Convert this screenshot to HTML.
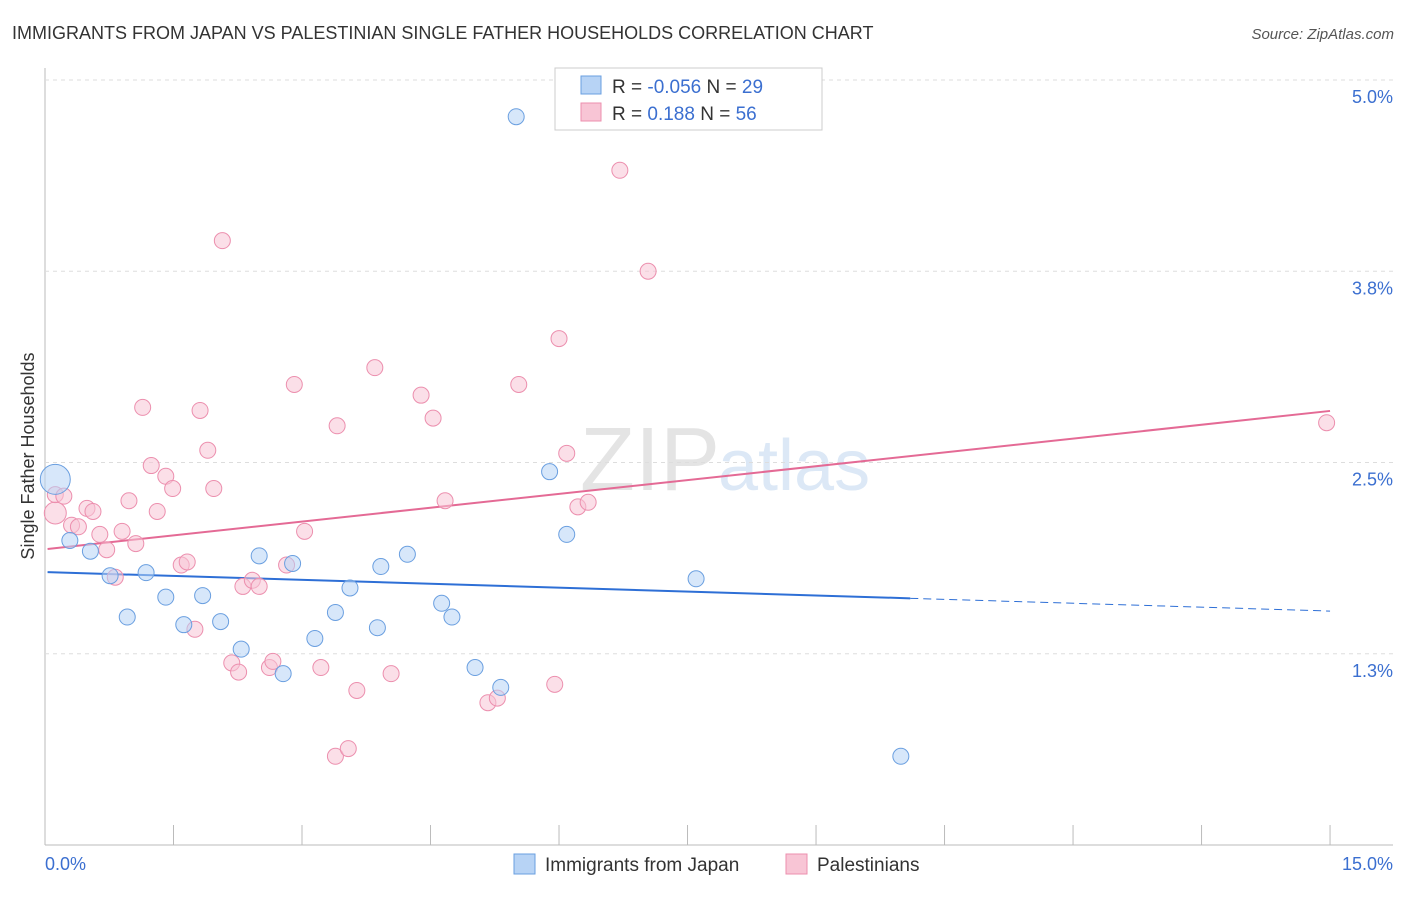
<!DOCTYPE html>
<html><head><meta charset="utf-8"><style>
body{margin:0;background:#fff;font-family:"Liberation Sans",sans-serif;}
svg text{font-family:"Liberation Sans",sans-serif;}
</style></head><body>
<svg width="1406" height="892" id="chart">
<text x="12" y="39" font-size="18" fill="#333">IMMIGRANTS FROM JAPAN VS PALESTINIAN SINGLE FATHER HOUSEHOLDS CORRELATION CHART</text>
<text x="1394" y="39" font-size="15" fill="#555" font-style="italic" text-anchor="end">Source: ZipAtlas.com</text>
<text x="720" y="490" font-size="90" fill="#e4e4e4" text-anchor="end" font-family="Liberation Serif">ZIP</text>
<text x="718" y="490" font-size="72" fill="#dce8f6">atlas</text>
<text x="34" y="456" font-size="18" fill="#333" transform="rotate(-90 34 456)" text-anchor="middle">Single Father Households</text>
<g id="grid"></g><g id="ticks"></g><g id="lines"></g><g id="pts"></g>
<g>
<rect x="555" y="68" width="267" height="62" fill="#fff" stroke="#ccc"/>
<rect x="581" y="76" width="20" height="18" fill="#b7d3f5" stroke="#6a9fe0"/>
<rect x="581" y="103" width="20" height="18" fill="#f8c5d5" stroke="#ec8fae"/>
<text x="612" y="93" font-size="19" fill="#333">R = <tspan fill="#3b6fd0">-0.056</tspan>   N = <tspan fill="#3b6fd0">29</tspan></text>
<text x="612" y="120" font-size="19" fill="#333">R =    <tspan fill="#3b6fd0">0.188</tspan>   N = <tspan fill="#3b6fd0">56</tspan></text>
</g>
<g>
<rect x="514" y="854" width="21" height="20" fill="#b7d3f5" stroke="#6a9fe0"/>
<text x="545" y="871" font-size="19" fill="#333">Immigrants from Japan</text>
<rect x="786" y="854" width="21" height="20" fill="#f8c5d5" stroke="#ec8fae"/>
<text x="817" y="871" font-size="19" fill="#333">Palestinians</text>
</g>
</svg>
<script>
const yTicks=[5.0,3.75,2.5,1.25];
const yTickLabels=["5.0%","3.8%","2.5%","1.3%"];
const xTicks=[0,1.5,3,4.5,6,7.5,9,10.5,12,13.5,15];
const japanX=[0.12,0.29,0.53,0.76,0.96,1.18,1.41,1.62,1.84,2.05,2.29,2.50,2.78,2.89,3.15,3.39,3.56,3.88,3.92,4.23,4.63,4.75,5.02,5.32,5.50,5.89,6.09,7.60,9.99];
const japanY=[2.39,1.99,1.92,1.76,1.49,1.78,1.62,1.44,1.63,1.46,1.28,1.89,1.12,1.84,1.35,1.52,1.68,1.42,1.82,1.90,1.58,1.49,1.16,1.03,4.76,2.44,2.03,1.74,0.58];
const palX=[0.12,0.12,0.22,0.31,0.39,0.49,0.56,0.64,0.72,0.82,0.90,0.98,1.06,1.14,1.24,1.31,1.41,1.49,1.59,1.66,1.75,1.81,1.90,1.97,2.07,2.18,2.26,2.31,2.42,2.50,2.62,2.66,2.82,2.91,3.03,3.22,3.39,3.41,3.54,3.64,3.85,4.04,4.39,4.53,4.67,5.17,5.28,5.53,5.95,6.00,6.09,6.22,6.34,6.71,7.04,14.96];
const palY=[2.17,2.29,2.28,2.09,2.08,2.20,2.18,2.03,1.93,1.75,2.05,2.25,1.97,2.86,2.48,2.18,2.41,2.33,1.83,1.85,1.41,2.84,2.58,2.33,3.95,1.19,1.13,1.69,1.73,1.69,1.16,1.20,1.83,3.01,2.05,1.16,0.58,2.74,0.63,1.01,3.12,1.12,2.94,2.79,2.25,0.93,0.96,3.01,1.05,3.31,2.56,2.21,2.24,4.41,3.75,2.76];
const japanTrend=[1.784,1.529];
const palTrend=[1.935,2.837];
const X=v=>45+v*85.67, Y=v=>845-v*153;
const NS="http://www.w3.org/2000/svg";
function mk(t,a,p){const e=document.createElementNS(NS,t);for(const k in a)e.setAttribute(k,a[k]);document.getElementById(p).appendChild(e);return e;}
let ax=mk('line',{x1:45,y1:68,x2:45,y2:845,stroke:'#bbb'},'grid');


let bx=mk('line',{x1:45,y1:845,x2:1393,y2:845,stroke:'#bbb'},'grid');


yTicks.forEach((v,i)=>{
 const g=mk('line',{x1:45,y1:Y(v),x2:1393,y2:Y(v),stroke:'#ddd','stroke-dasharray':'4,4'},'grid');
 
 
 const t=mk('text',{x:1393,y:Y(v)+23,'font-size':18,fill:'#3b6fd0','text-anchor':'end'},'ticks');
 t.textContent=yTickLabels[i];
 
 
});
xTicks.forEach(v=>{
 const l=mk('line',{x1:X(v),y1:825,x2:X(v),y2:845,stroke:'#bbb'},'ticks');
 
 
});
let t0=mk('text',{x:45,y:870,'font-size':18,fill:'#3b6fd0'},'ticks');t0.textContent='0.0%';


let t1=mk('text',{x:1393,y:870,'font-size':18,fill:'#3b6fd0','text-anchor':'end'},'ticks');t1.textContent='15.0%';


function pts(xs,ys,fill,stroke,name){xs.forEach((x,i)=>{
 const r=(i===0&&name==='japan-point')?15:(i===0?11:8);
 const c=mk('circle',{cx:X(x),cy:Y(ys[i]),r:r,fill:fill,'fill-opacity':0.55,stroke:stroke,'stroke-width':1},'pts');
 
 
});}
pts(palX,palY,'#f8c5d5','#ec8fae','palestinian-point');
pts(japanX,japanY,'#b7d3f5','#6a9fe0','japan-point');
const jAt=v=>japanTrend[0]+(japanTrend[1]-japanTrend[0])*v/15;
let j1=mk('line',{x1:X(0.03),y1:Y(jAt(0.03)),x2:X(10.1),y2:Y(jAt(10.1)),stroke:'#2e6fd6','stroke-width':2},'lines');


let j2=mk('line',{x1:X(10.1),y1:Y(jAt(10.1)),x2:X(15),y2:Y(jAt(15)),stroke:'#2e6fd6','stroke-width':1,'stroke-dasharray':'8,5'},'lines');


let p1=mk('line',{x1:X(0.03),y1:Y(palTrend[0]),x2:X(15),y2:Y(palTrend[1]),stroke:'#e46a95','stroke-width':2},'lines');


</script>
</body></html>
